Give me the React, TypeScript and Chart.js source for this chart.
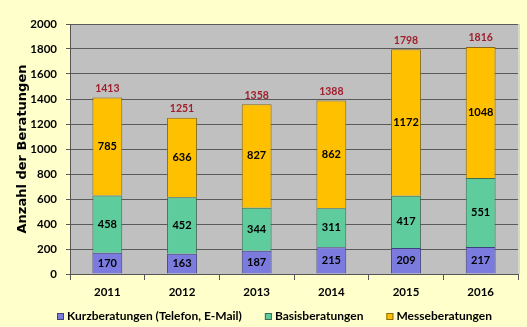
import React, { useEffect, useRef } from "react";
import { Chart, registerables } from "chart.js";

Chart.register(...registerables);

const years = ["2011", "2012", "2013", "2014", "2015", "2016"];
const kurz = [170, 163, 187, 215, 209, 217];
const basis = [458, 452, 344, 311, 417, 551];
const messe = [785, 636, 827, 862, 1172, 1048];
const totals = [1413, 1251, 1358, 1388, 1798, 1816];
const seriesNames = ["Kurzberatungen (Telefon, E-Mail)", "Basisberatungen", "Messeberatungen"];
const seriesColors = ["#7B7BDF", "#5ECC9C", "#FFC000"];
const seriesBorders = ["#40407A", "#3A6E55", "#8A6A10"];
const yTitle = "Anzahl der Beratungen";

const FONT = "Lato";

const bgPlugin = {
  id: "bgPlugin",
  beforeDraw(chart: any) {
    const { ctx, chartArea } = chart;
    ctx.save();
    ctx.fillStyle = "#FFFFCC";
    ctx.fillRect(0, 0, chart.width, chart.height);
    ctx.fillStyle = "#C0C0C0";
    ctx.fillRect(chartArea.left, chartArea.top, chartArea.right - chartArea.left, chartArea.bottom - chartArea.top);
    ctx.fillStyle = "#D8D8C8";
    ctx.fillRect(chartArea.right, chartArea.top, 2, chartArea.bottom - chartArea.top);
    ctx.restore();
  },
  afterDraw(chart: any) {
    const { ctx, chartArea } = chart;
    ctx.save();
    // axis title
    ctx.translate(22.5, (chartArea.top + chartArea.bottom) / 2);
    ctx.rotate(-Math.PI / 2);
    ctx.fillStyle = "#000";
    ctx.font = `bold 13px "DejaVu Sans"`;
    ctx.textAlign = "center";
    ctx.textBaseline = "middle";
    ctx.fillText(yTitle, 0, 0);
    ctx.restore();

    // legend
    ctx.save();
    ctx.font = `bold 12px ${FONT}`;
    ctx.textBaseline = "middle";
    ctx.textAlign = "left";
    const yc = 316.5;
    let x = 57;
    chart.data.datasets.forEach((ds: any) => {
      ctx.fillStyle = ds.backgroundColor;
      ctx.fillRect(x, yc - 3.5, 7, 7);
      ctx.strokeStyle = ds.borderColor;
      ctx.lineWidth = 1;
      ctx.strokeRect(x + 0.5, yc - 3, 6, 6);
      ctx.fillStyle = "#000";
      ctx.fillText(ds.label, x + 10, yc);
      x += 10 + ctx.measureText(ds.label).width + 23;
    });
    ctx.restore();
  },
};

const labelPlugin = {
  id: "labelPlugin",
  afterDatasetsDraw(chart: any) {
    const { ctx } = chart;
    ctx.save();
    ctx.textAlign = "center";
    ctx.textBaseline = "middle";
    chart.data.datasets.forEach((ds: any, di: number) => {
      const meta = chart.getDatasetMeta(di);
      meta.data.forEach((el: any, i: number) => {
        ctx.fillStyle = "#000";
        ctx.font = `bold 11px ${FONT}`;
        ctx.fillText(String(ds.data[i]), el.x, (el.y + el.base) / 2);
        if (di === chart.data.datasets.length - 1) {
          ctx.fillStyle = "#A01E2C";
          ctx.font = `bold 10.5px ${FONT}`;
          ctx.fillText(String(totals[i]), el.x, el.y - 9);
        }
      });
    });
    ctx.restore();
  },
};

export default function App() {
  const ref = useRef<HTMLCanvasElement>(null);
  useEffect(() => {
    const chart = new Chart(ref.current!, {
      type: "bar",
      data: {
        labels: years,
        datasets: [
          { label: seriesNames[0], data: kurz, backgroundColor: seriesColors[0], borderColor: seriesBorders[0], borderWidth: 1 },
          { label: seriesNames[1], data: basis, backgroundColor: seriesColors[1], borderColor: seriesBorders[1], borderWidth: 1 },
          { label: seriesNames[2], data: messe, backgroundColor: seriesColors[2], borderColor: seriesBorders[2], borderWidth: 1 },
        ],
      },
      options: {
        responsive: false,
        animation: false,
        devicePixelRatio: 1,
        layout: { padding: { left: 0, right: 9, top: 24, bottom: 22 } },
        datasets: { bar: { barPercentage: 0.4, categoryPercentage: 1 } },
        plugins: {
          legend: { display: false },
          tooltip: { enabled: false },
        },
        scales: {
          x: {
            stacked: true,
            afterFit(scale: any) {
              scale.height = 31;
            },
            grid: { drawOnChartArea: false, drawTicks: true, tickLength: 6, color: "#555", offset: true },
            border: { color: "#555" },
            ticks: { color: "#000", padding: 5, font: { family: FONT, size: 11.5, weight: "bold" } },
          },
          y: {
            stacked: true,
            min: 0,
            max: 2000,
            afterFit(scale: any) {
              scale.width = 70;
            },
            grid: { color: "#5A5A5A", tickLength: 4 },
            border: { color: "#555" },
            ticks: {
              stepSize: 200,
              color: "#000",
              padding: 9,
              font: { family: FONT, size: 11.5, weight: "bold" },
              callback: (v: any) => String(v),
            },
          },
        },
      },
      plugins: [bgPlugin, labelPlugin],
    } as any);
    return () => chart.destroy();
  }, []);
  return (
    <div style={{ position: "fixed", left: 0, top: 0, width: 527, height: 327 }}>
      <canvas ref={ref} width={527} height={327} />
    </div>
  );
}
